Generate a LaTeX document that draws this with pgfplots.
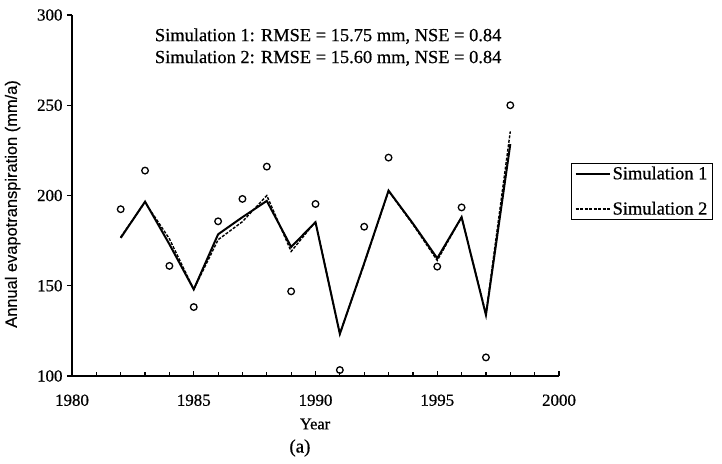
\documentclass[border=0pt]{standalone}
\usepackage{pgfplots}
\pgfplotsset{compat=1.18}
\usepackage{fontspec}
\setmainfont{Liberation Serif}[FakeBold=0.6]
\newfontfamily\labsans{Liberation Sans}[FakeBold=0.4]

\pgfplotstableread{
year obs
1982 192.4
1983 213.8
1984 161.0
1985 138.2
1986 185.7
1987 198.1
1988 216.0
1989 146.9
1990 195.3
1991 103.3
1992 182.7
1993 221.0
1995 160.6
1996 193.4
1997 110.3
1998 250.0
}\obsdata

\pgfplotstableread{
year simA simB
1982 176.5 177.0
1983 196.6 196.2
1984 173.0 176.0
1985 148.0 148.0
1986 178.5 175.5
1987 188.0 185.5
1988 197.0 200.0
1989 171.5 169.0
1990 185.2 185.5
1991 123.3 123.5
1992 162.5 162.0
1993 202.7 202.5
1994 184.5 184.0
1995 165.2 164.0
1996 188.0 188.0
1997 133.8 134.5
1998 228.5 235.5
}\simdata

\begin{document}
\begin{tikzpicture}
\begin{axis}[
  scale only axis,
  width=487bp, height=361bp,
  xmin=1980, xmax=2000, ymin=100, ymax=300,
  axis lines=left,
  axis line style={-, line width=1.6bp},
  xtick={1980,1985,1990,1995,2000},
  ytick={100,150,200,250,300},
  minor x tick num=4,
  tick align=inside,
  major tick length=5bp, minor tick length=4bp,
  every tick/.style={black, line width=1.2bp},
  ytick style={xshift=-5bp},
  x tick label style={/pgf/number format/1000 sep={}},
  /pgf/number format/assume math mode=true,
  tick label style={font=\fontsize{17}{19}\selectfont},
  xticklabel style={yshift=-15bp},
  yticklabel style={xshift=-6bp},
  clip=false,
  ylabel={\labsans Annual evapotranspiration (mm/a)},
  ylabel style={at={(rel axis cs:-0.122,0.4765)}, anchor=center, rotate=0, font=\fontsize{16.5}{19}\selectfont},
  xlabel={Year},
  xlabel style={at={(rel axis cs:0.499,-0.133)}, anchor=center, font=\fontsize{16.5}{19}\selectfont},
  legend style={at={(rel axis cs:1.025,0.59)}, anchor=north west, draw=black, line width=1bp,
    font=\fontsize{18.5}{21}\selectfont, inner xsep=3bp, inner ysep=1bp, row sep=17bp,
    legend cell align=left},
  legend image code/.code={\draw[#1] (0bp,0bp) -- (34bp,0bp);},
]
\addplot[only marks, mark=o, mark size=3.3bp, mark options={line width=1.3bp, black}, forget plot] table[x=year, y=obs] {\obsdata};
\addplot[black, line width=2bp, mark=none] table[x=year, y=simA] {\simdata};
\addlegendentry{Simulation 1\hspace{20bp}}
\addplot[black, line width=1.4bp, mark=none, dash pattern=on 3bp off 1.5bp] table[x=year, y=simB] {\simdata};
\addlegendentry{Simulation 2\hspace{20bp}}
\node[align=center, font=\fontsize{18.5}{22}\selectfont] at (rel axis cs:0.526,0.911)
  {Simulation 1: RMSE = 15.75 mm, NSE = 0.84\\Simulation 2: RMSE = 15.60 mm, NSE = 0.84};
\node[font=\fontsize{19}{22}\selectfont] at (rel axis cs:0.468,-0.1994) {(a)};
\coordinate (bl) at (rel axis cs:0,0);
\end{axis}
\pgfresetboundingbox
\path[use as bounding box] ([xshift=-72bp,yshift=-88bp]bl) rectangle ([xshift=650bp,yshift=376bp]bl);
\end{tikzpicture}
\end{document}
